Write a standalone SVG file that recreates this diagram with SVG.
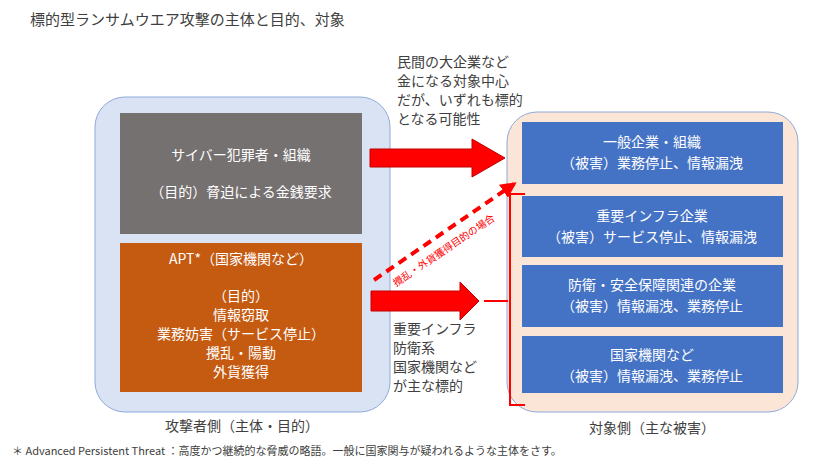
<svg xmlns="http://www.w3.org/2000/svg" width="832" height="466" viewBox="0 0 832 466">
<style>
text{font-family:"Noto Sans CJK JP","Noto Sans",sans-serif;font-size:14px;fill:#404040}
.w{fill:#fff;text-anchor:middle}
.b{fill:#4472c4}
.arr{fill:#ff0000;stroke:#c00000;stroke-width:1}
</style>
<defs><marker id="ah" viewBox="0 0 10 10" refX="8" refY="5" markerWidth="4" markerHeight="4" orient="auto"><path d="M0,0L10,5L0,10z" fill="#ff0000"/></marker></defs>
<rect width="832" height="466" fill="#fff"/>
<text x="30" y="25" style="font-size:15px">標的型ランサムウエア攻撃の主体と目的、対象</text>
<g id="left-panel"><rect x="95" y="97" width="295" height="315" rx="30" fill="#dae3f3" stroke="#8faadc"/>
<text x="242" y="431" style="text-anchor:middle">攻撃者側（主体・目的）</text></g>
<g id="cyber"><rect x="120" y="113" width="242" height="121" fill="#767171"/>
<text class="w" x="241" y="160">サイバー犯罪者・組織</text><text class="w" x="241" y="197">（目的）脅迫による金銭要求</text></g>
<g id="apt"><rect x="120" y="243" width="242" height="149" fill="#c55a11"/>
<text class="w" x="241" y="264">APT*（国家機関など）</text>
<text class="w" x="241" y="301">（目的）</text><text class="w" x="241" y="320">情報窃取</text><text class="w" x="241" y="339">業務妨害（サービス停止）</text><text class="w" x="241" y="358">攪乱・陽動</text><text class="w" x="241" y="377">外貨獲得</text></g>
<g id="right-panel"><rect x="507" y="112" width="291" height="300" rx="30" fill="#fbe5d6" stroke="#8faadc"/>
<text x="652" y="433" style="text-anchor:middle">対象側（主な被害）</text></g>
<g id="t1"><rect class="b" x="522" y="122" width="261" height="62"/><text class="w" x="652" y="147">一般企業・組織</text><text class="w" x="652" y="168">（被害）業務停止、情報漏洩</text></g>
<g id="t2"><rect class="b" x="522" y="196" width="261" height="61"/><text class="w" x="652" y="221">重要インフラ企業</text><text class="w" x="652" y="242">（被害）サービス停止、情報漏洩</text></g>
<g id="t3"><rect class="b" x="522" y="265" width="261" height="62"/><text class="w" x="652" y="290">防衛・安全保障関連の企業</text><text class="w" x="652" y="311">（被害）情報漏洩、業務停止</text></g>
<g id="t4"><rect class="b" x="522" y="336" width="261" height="57"/><text class="w" x="652" y="360">国家機関など</text><text class="w" x="652" y="381">（被害）情報漏洩、業務停止</text></g>
<g id="connectors">
<path class="arr" d="M370,149H472V139L505,158L472,177V167H370z"/>
<path class="arr" d="M371,291H460V282L479,301L460,320V311H371z"/>
<path d="M484,301H508M525,194H510V405H525" fill="none" stroke="#ff0000" stroke-width="2"/>
<line x1="374" y1="280" x2="514" y2="184" stroke="#ff0000" stroke-width="4" stroke-dasharray="9,6" marker-end="url(#ah)"/>
<text transform="translate(396,287) rotate(-34)" style="font-size:10px;fill:#ff0000">攪乱・外貨獲得目的の場合</text>
</g>
<text x="397" y="67">民間の大企業など</text><text x="397" y="86">金になる対象中心</text><text x="397" y="105">だが、いずれも標的</text><text x="397" y="124">となる可能性</text>
<text x="393" y="334">重要インフラ</text><text x="393" y="353">防衛系</text><text x="393" y="372">国家機関など</text><text x="393" y="391">が主な標的</text>
<text x="12" y="455" style="font-size:11px">＊ Advanced Persistent Threat ：高度かつ継続的な脅威の略語。一般に国家関与が疑われるような主体をさす。</text>
</svg>
